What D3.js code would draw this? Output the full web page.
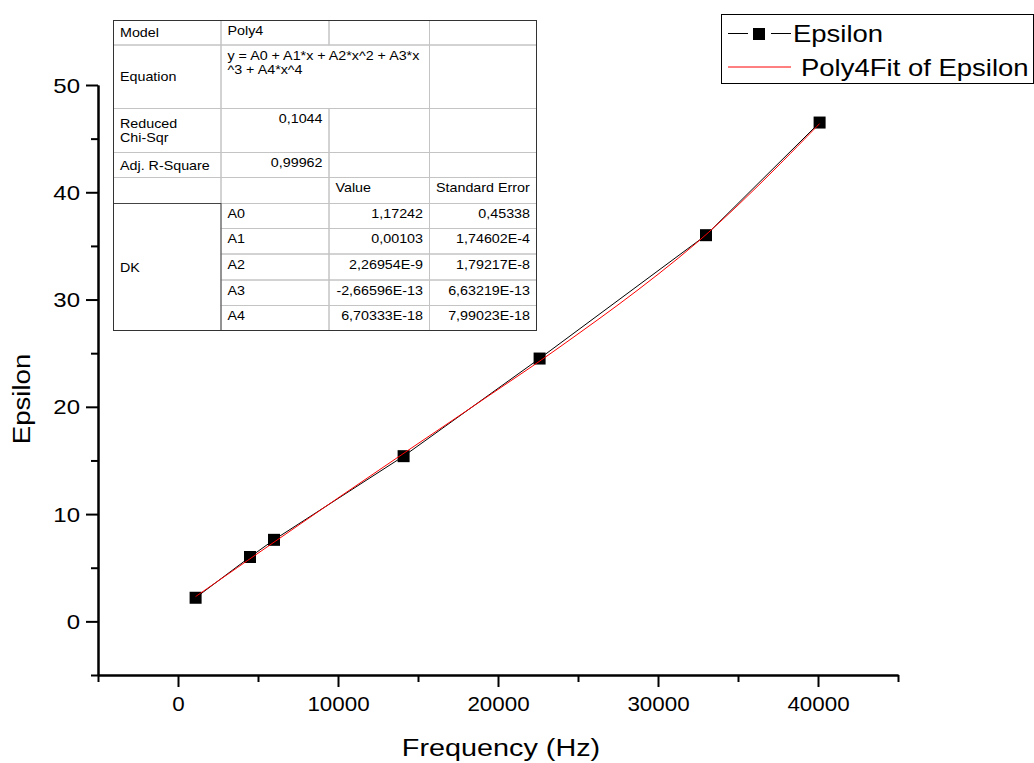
<!DOCTYPE html>
<html>
<head>
<meta charset="utf-8">
<script src="https://cdn.jsdelivr.net/npm/d3@7"></script>
<style>
  body { margin: 0; background: #fff; }
  svg text { font-family: "Liberation Sans", Arial, sans-serif; fill: #000; }
</style>
</head>
<body>
<svg id="chart" width="1034" height="763"></svg>
<script>
// measured data
const frequency = [1100, 4500, 6000, 14100, 22600, 33000, 40100];
const epsilon = [2.2, 6.0, 7.6, 15.4, 24.5, 36.0, 46.5];

// red fit curve
const fitFrequency = [1100, 2500, 5000, 7500, 10000, 12500, 15000, 17500, 20000,
                      22500, 25000, 27500, 30000, 32500, 35000, 37500, 40100];
const fitEpsilon = [2.31, 3.76, 6.35, 8.93, 11.5, 14.04, 16.57, 19.09, 21.62,
                    24.15, 26.79, 29.5, 32.35, 35.4, 38.8, 42.45, 46.4];

const xTicks = [0, 10000, 20000, 30000, 40000];
const xMinorTicks = [-5000, 5000, 15000, 25000, 35000, 45000];
const yTicks = [0, 10, 20, 30, 40, 50];
const yMinorTicks = [-5, 5, 15, 25, 35, 45];

const legendLabels = ["Epsilon", "Poly4Fit of Epsilon"];

// fit report table
const statLabels = ["Model", "Equation", "Reduced\nChi-Sqr", "Adj. R-Square"];
const statValues = ["Poly4", "y = A0 + A1*x + A2*x^2 + A3*x\n^3 + A4*x^4", "0,1044", "0,99962"];
const paramHeader = ["Value", "Standard Error"];
const paramGroup = "DK";
const paramNames = ["A0", "A1", "A2", "A3", "A4"];
const paramValues = ["1,17242", "0,00103", "2,26954E-9", "-2,66596E-13", "6,70333E-18"];
const paramErrors = ["0,45338", "1,74602E-4", "1,79217E-8", "6,63219E-13", "7,99023E-18"];

const svg = d3.select("#chart");
const fontFamily = "'Liberation Sans', Arial, sans-serif";

const x = d3.scaleLinear().domain([-5000, 45000]).range([98, 898]);
const y = d3.scaleLinear().domain([-5, 50]).range([675, 85]);

// text stretched horizontally like the original rendering
const addText = (parent, tx, ty, str, size, sx, anchor = "start") =>
  parent.append("text")
    .attr("transform", `translate(${tx},${ty}) scale(${sx},1)`)
    .attr("font-size", size)
    .attr("text-anchor", anchor)
    .text(str);

// Axes
const styleAxis = g => {
  g.select(".domain").attr("stroke", "#000").attr("stroke-width", 2);
  g.selectAll(".tick line").attr("stroke", "#000").attr("stroke-width", 2);
};

svg.append("g")
    .attr("transform", "translate(0,675)")
    .call(d3.axisBottom(x).tickValues(xMinorTicks).tickSize(7).tickSizeOuter(0).tickFormat(""))
    .call(styleAxis);
const xAxis = svg.append("g")
    .attr("transform", "translate(0,675)")
    .call(d3.axisBottom(x).tickValues(xTicks).tickSize(12).tickSizeOuter(0).tickFormat(d3.format("d")))
    .call(styleAxis);
xAxis.selectAll(".tick text")
    .attr("font-size", 20)
    .attr("font-family", fontFamily)
    .attr("y", 0).attr("dy", 0)
    .attr("transform", "translate(0,36) scale(1.12,1)");

svg.append("g")
    .attr("transform", "translate(98,0)")
    .call(d3.axisLeft(y).tickValues(yMinorTicks).tickSize(7).tickSizeOuter(0).tickFormat(""))
    .call(styleAxis);
const yAxis = svg.append("g")
    .attr("transform", "translate(98,0)")
    .call(d3.axisLeft(y).tickValues(yTicks).tickSize(12).tickSizeOuter(0))
    .call(styleAxis);
yAxis.selectAll(".tick text")
    .attr("font-size", 20)
    .attr("font-family", fontFamily)
    .attr("x", 0).attr("dy", "0.35em")
    .attr("transform", "translate(-18,0) scale(1.2,1)");

addText(svg, 501, 756, "Frequency (Hz)", 24, 1.2, "middle");
svg.append("text")
    .attr("transform", "translate(30,399) rotate(-90) scale(1.15,1)")
    .attr("font-size", 24)
    .attr("text-anchor", "middle")
    .text("Epsilon");

// Data
const points = frequency.map((f, i) => ({ f, e: epsilon[i] }));
const fitPoints = fitFrequency.map((f, i) => ({ f, e: fitEpsilon[i] }));

svg.append("path")
    .datum(points)
    .attr("fill", "none")
    .attr("stroke", "#000")
    .attr("stroke-width", 1)
    .attr("d", d3.line().x(d => x(d.f)).y(d => y(d.e)));

svg.append("g")
  .selectAll("rect")
  .data(points)
  .join("rect")
    .attr("x", d => x(d.f) - 6)
    .attr("y", d => y(d.e) - 6)
    .attr("width", 12)
    .attr("height", 12)
    .attr("fill", "#000");

svg.append("path")
    .datum(fitPoints)
    .attr("fill", "none")
    .attr("stroke", "#ff0000")
    .attr("stroke-width", 1)
    .attr("d", d3.line().curve(d3.curveCatmullRom).x(d => x(d.f)).y(d => y(d.e)));

// Legend
const legend = svg.append("g");
legend.append("rect")
    .attr("x", 721.5).attr("y", 14.5)
    .attr("width", 312).attr("height", 69)
    .attr("fill", "#fff")
    .attr("stroke", "#000");
legend.append("line")
    .attr("x1", 728).attr("x2", 748).attr("y1", 33.5).attr("y2", 33.5)
    .attr("stroke", "#000");
legend.append("line")
    .attr("x1", 771).attr("x2", 791).attr("y1", 33.5).attr("y2", 33.5)
    .attr("stroke", "#000");
legend.append("rect")
    .attr("x", 753).attr("y", 28)
    .attr("width", 12).attr("height", 12)
    .attr("fill", "#000");
addText(legend, 793, 42, legendLabels[0], 23.5, 1.17);
legend.append("line")
    .attr("x1", 728).attr("x2", 791).attr("y1", 67).attr("y2", 67)
    .attr("stroke", "#ff0000");
addText(legend, 801, 76, legendLabels[1], 23.5, 1.17);

// Fit report table
const colX = [113.5, 221, 329, 429.5, 536.5];
const rowY = [20.5, 45, 108.5, 152.5, 177.5, 203.5, 228.5, 254, 280, 305.5, 330.5];
const table = svg.append("g");
const tableSize = 13;
const tableSx = 1.1;
const lineGap = 14;

const cell = (c0, c1, r0, r1, str, align, stroke = "#c4c4c4") => {
  table.append("rect")
      .attr("x", colX[c0]).attr("y", rowY[r0])
      .attr("width", colX[c1] - colX[c0])
      .attr("height", rowY[r1] - rowY[r0])
      .attr("fill", "none")
      .attr("stroke", stroke);
  if (!str) return;
  const lines = str.split("\n");
  let baseY;
  if (c0 === 0) {
    const mid = (rowY[r0] + rowY[r1]) / 2;
    baseY = mid - (lines.length - 1) * lineGap / 2 + 4.7;
  } else {
    baseY = rowY[r0] + 14.5;
  }
  lines.forEach((ln, i) => {
    if (align === "right") {
      addText(table, colX[c1] - 6.5, baseY + i * lineGap, ln, tableSize, tableSx, "end");
    } else {
      addText(table, colX[c0] + 6.5, baseY + i * lineGap, ln, tableSize, tableSx);
    }
  });
};

// stats rows
cell(0, 1, 0, 1, statLabels[0]);
cell(1, 2, 0, 1, statValues[0]);
cell(2, 3, 0, 1, "");
cell(3, 4, 0, 1, "");
cell(0, 1, 1, 2, statLabels[1]);
cell(1, 3, 1, 2, statValues[1]);
cell(3, 4, 1, 2, "");
cell(0, 1, 2, 3, statLabels[2]);
cell(1, 2, 2, 3, statValues[2], "right");
cell(2, 3, 2, 3, "");
cell(3, 4, 2, 3, "");
cell(0, 1, 3, 4, statLabels[3]);
cell(1, 2, 3, 4, statValues[3], "right");
cell(2, 3, 3, 4, "");
cell(3, 4, 3, 4, "");
// header row
cell(0, 1, 4, 5, "");
cell(1, 2, 4, 5, "");
cell(2, 3, 4, 5, paramHeader[0]);
cell(3, 4, 4, 5, paramHeader[1]);
// parameters
paramNames.forEach((name, i) => {
  cell(1, 2, 5 + i, 6 + i, name);
  cell(2, 3, 5 + i, 6 + i, paramValues[i], "right");
  cell(3, 4, 5 + i, 6 + i, paramErrors[i], "right");
});
cell(0, 1, 5, 10, paramGroup, "left", "#444");

table.append("rect")
    .attr("x", colX[0]).attr("y", rowY[0])
    .attr("width", colX[4] - colX[0])
    .attr("height", rowY[10] - rowY[0])
    .attr("fill", "none")
    .attr("stroke", "#333");
</script>
</body>
</html>
